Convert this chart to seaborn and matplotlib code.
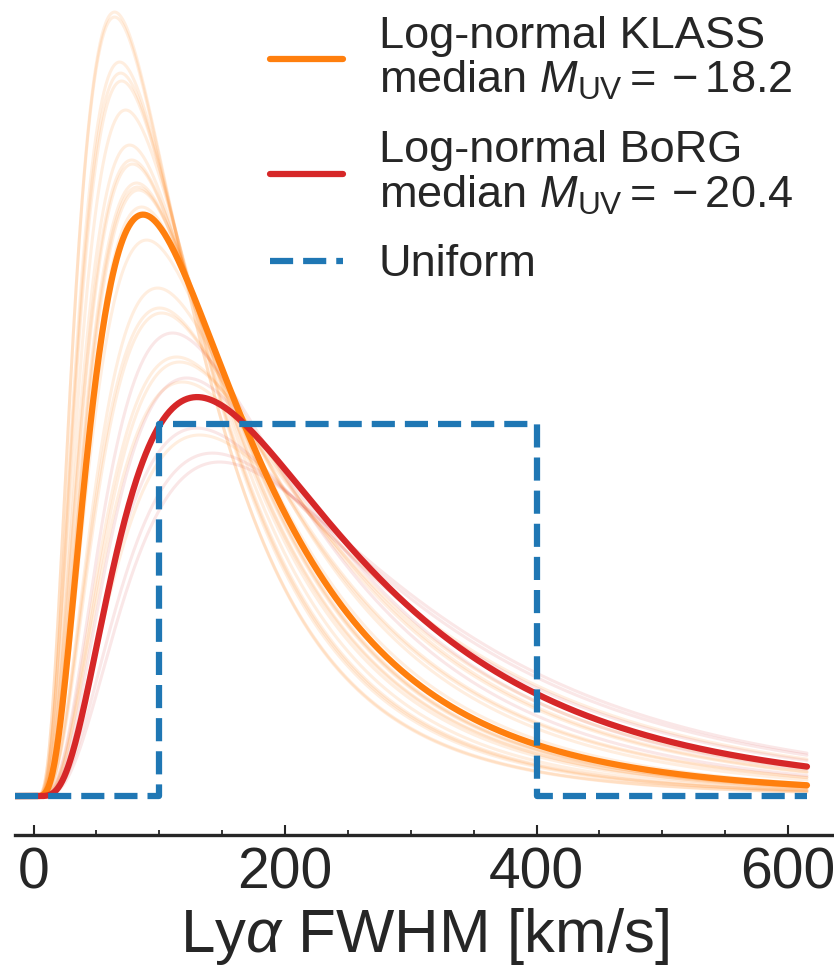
import numpy as np
import pandas as pd
import matplotlib
matplotlib.use("Agg")
import matplotlib.pyplot as plt
from matplotlib.ticker import MultipleLocator
import seaborn as sns

# ---------------- data ----------------
# log-normal curves described by their mode (km/s) and peak density
klass_mode, klass_peak = 87.0, 0.00521
borg_mode, borg_peak = 130.0, 0.003575

# faint posterior samples (KLASS, orange)
klass_sample_modes = [64.4, 64.4, 68.4, 69.2, 70.0, 73.2, 76.4, 78.0, 78.7, 81.9,
                      82.7, 83.5, 85.9, 89.9, 98.6, 100.2, 101.8, 113.7, 116.1,
                      118.5, 132.0]
klass_sample_peaks = [0.007025, 0.006980, 0.006577, 0.006478, 0.006407, 0.006147,
                      0.005833, 0.005699, 0.005663, 0.005493, 0.005457, 0.005430,
                      0.005278, 0.004982, 0.004552, 0.004373, 0.004328, 0.003934,
                      0.003889, 0.003710, 0.003235]
# faint posterior samples (BoRG, red)
borg_sample_modes = [110.5, 121.7, 129.6, 142.3, 147.9]
borg_sample_peaks = [0.004149, 0.003746, 0.003297, 0.003073, 0.002993]

# uniform distribution between 100 and 400 km/s
uniform_x = [-15, 100, 100, 400, 400, 615]
uniform_y = [0, 0, 1 / 300, 1 / 300, 0, 0]

x_min, x_max = -15, 615
xtick_vals = [0, 200, 400, 600]

legend_labels = ["Log-normal KLASS\nmedian $M_{\\rm UV} = {}-18.2$",
                 "Log-normal BoRG\nmedian $M_{\\rm UV} = {}-20.4$",
                 "Uniform"]

# ---------------- style ----------------
sns.set_style("ticks")
plt.rcParams["font.family"] = ["Liberation Sans", "DejaVu Sans"]
plt.rcParams["mathtext.fontset"] = "custom"
plt.rcParams["mathtext.rm"] = "Liberation Sans"
plt.rcParams["mathtext.it"] = "Liberation Sans:italic"
plt.rcParams["mathtext.bf"] = "Liberation Sans:bold"

C_ORANGE = "#ff7f0e"
C_RED = "#d62728"
C_BLUE = "#1f77b4"

x = np.linspace(x_min, x_max, 800)
_sig = np.linspace(0.05, 3.0, 6000)
_g = np.exp(-_sig ** 2 / 2) / _sig


def lognormal(mode, peak):
    target = peak * mode * np.sqrt(2 * np.pi)
    s = np.interp(target, _g[::-1], _sig[::-1])
    mu = np.log(mode) + s ** 2
    y = np.zeros_like(x)
    pos = x > 0
    y[pos] = np.exp(-(np.log(x[pos]) - mu) ** 2 / (2 * s ** 2)) / (x[pos] * s * np.sqrt(2 * np.pi))
    return y


fig = plt.figure(figsize=(8.34, 9.66), dpi=100)
ax = fig.add_axes([15 / 834, (966 - 835) / 966, (834 - 15) / 834, 835 / 966])

for m, p in zip(klass_sample_modes, klass_sample_peaks):
    sns.lineplot(x=x, y=lognormal(m, p), ax=ax, color=C_ORANGE, alpha=0.13,
                 lw=2.2, estimator=None, sort=False)
for m, p in zip(borg_sample_modes, borg_sample_peaks):
    sns.lineplot(x=x, y=lognormal(m, p), ax=ax, color=C_RED, alpha=0.11,
                 lw=2.2, estimator=None, sort=False)

sns.lineplot(x=x, y=lognormal(klass_mode, klass_peak), ax=ax, color=C_ORANGE,
             lw=4.5, estimator=None, sort=False, label=legend_labels[0])
sns.lineplot(x=x, y=lognormal(borg_mode, borg_peak), ax=ax, color=C_RED,
             lw=4.5, estimator=None, sort=False, label=legend_labels[1])
sns.lineplot(x=uniform_x, y=uniform_y, ax=ax, color=C_BLUE, lw=4.5,
             linestyle="--", estimator=None, sort=False, label=legend_labels[2])

ax.set_xlim(-14.8, 636.5)
ax.set_ylim(-0.000349, 0.007133)
ax.set_yticks([])
ax.set_ylabel("")
ax.set_xticks(xtick_vals)
ax.xaxis.set_minor_locator(MultipleLocator(50))
ax.tick_params(axis="x", which="major", direction="in", length=7.5, width=1.5,
               labelsize=41, pad=8, color="#262626", labelcolor="#262626")
ax.tick_params(axis="x", which="minor", direction="in", length=3.5, width=1.3,
               color="#262626")
ax.set_xlabel("Ly$\\alpha$ FWHM [km/s]", fontsize=44.5, color="#262626", labelpad=4)
sns.despine(ax=ax, left=True, top=True, right=True)
ax.spines["bottom"].set_linewidth(2.4)
ax.spines["bottom"].set_color("#262626")

leg = ax.legend(loc="upper right", bbox_to_anchor=(0.972, 1.003), frameon=False,
                fontsize=32.5, handlelength=1.62, handletextpad=0.78,
                labelspacing=0.61, borderaxespad=0.0)
for t in leg.get_texts():
    t.set_color("#262626")
    t.set_linespacing(1.08)

fig.savefig("out.png", dpi=100)
